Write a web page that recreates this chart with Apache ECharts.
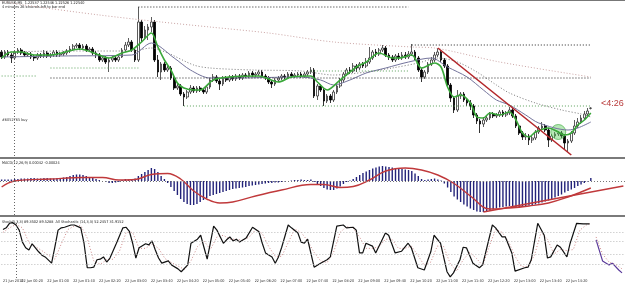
<!DOCTYPE html>
<html><head><meta charset="utf-8">
<script src="https://cdn.jsdelivr.net/npm/echarts/dist/echarts.min.js"></script>
<style>html,body{margin:0;padding:0;background:#fff;}#c{width:625px;height:285px;}</style>
</head><body><div id="c"></div>
<script>
// ---- tick labels: first at bar 0, then every 8 bars starting at bar 9 ----
const timeLabels = ['21 Jun 2010','22 Jun 00:20','22 Jun 01:00','22 Jun 01:40','22 Jun 02:20','22 Jun 03:00','22 Jun 03:40','22 Jun 04:20','22 Jun 05:00','22 Jun 05:40','22 Jun 06:20','22 Jun 07:00','22 Jun 07:40','22 Jun 08:20','22 Jun 09:00','22 Jun 09:40','22 Jun 10:20','22 Jun 11:00','22 Jun 11:40','22 Jun 12:20','22 Jun 13:00','22 Jun 13:40','22 Jun 14:20'];
const labelStep = 8;
const labelOffset = 1;
const slotCount = 192;           // bars + empty chart shift on the right
const daySeparator = 4;          // period separator position

// ---- EURUSD M5 candles [open, close, low, high] ----
const candles = [
[1.2310,1.2305,1.2303,1.2312],[1.2305,1.2310,1.2303,1.2312],[1.2310,1.2307,1.2305,1.2312],[1.2307,1.2304,1.2299,1.2309],
[1.2304,1.2310,1.2302,1.2312],[1.2310,1.2312,1.2308,1.2314],[1.2312,1.2309,1.2307,1.2314],[1.2309,1.2307,1.2305,1.2311],
[1.2307,1.2308,1.2305,1.2310],[1.2308,1.2305,1.2303,1.2310],[1.2305,1.2304,1.2301,1.2307],[1.2304,1.2307,1.2302,1.2309],
[1.2307,1.2306,1.2304,1.2309],[1.2306,1.2309,1.2304,1.2312],[1.2309,1.2306,1.2304,1.2311],[1.2306,1.2307,1.2304,1.2309],
[1.2307,1.2310,1.2305,1.2312],[1.2310,1.2307,1.2305,1.2312],[1.2307,1.2308,1.2305,1.2310],[1.2308,1.2309,1.2306,1.2311],
[1.2309,1.2311,1.2307,1.2313],[1.2311,1.2313,1.2309,1.2316],[1.2313,1.2316,1.2311,1.2318],[1.2316,1.2317,1.2314,1.2319],
[1.2317,1.2314,1.2312,1.2319],[1.2314,1.2316,1.2312,1.2318],[1.2316,1.2312,1.2310,1.2318],[1.2312,1.2313,1.2310,1.2315],
[1.2313,1.2309,1.2307,1.2315],[1.2309,1.2307,1.2304,1.2311],[1.2307,1.2302,1.2300,1.2309],[1.2302,1.2304,1.2300,1.2306],
[1.2304,1.2300,1.2298,1.2306],[1.2300,1.2302,1.2290,1.2304],[1.2302,1.2304,1.2300,1.2306],[1.2304,1.2302,1.2300,1.2306],
[1.2302,1.2305,1.2300,1.2307],[1.2305,1.2312,1.2304,1.2314],[1.2312,1.2317,1.2310,1.2320],[1.2317,1.2320,1.2315,1.2324],
[1.2320,1.2312,1.2310,1.2322],[1.2312,1.2302,1.2300,1.2314],[1.2302,1.2340,1.2300,1.2355],[1.2340,1.2324,1.2320,1.2342],
[1.2324,1.2332,1.2322,1.2336],[1.2332,1.2335,1.2322,1.2338],[1.2335,1.2340,1.2330,1.2345],[1.2340,1.2302,1.2300,1.2342],
[1.2302,1.2290,1.2285,1.2307],[1.2290,1.2298,1.2282,1.2300],[1.2298,1.2292,1.2290,1.2300],[1.2292,1.2294,1.2290,1.2296],
[1.2294,1.2284,1.2282,1.2296],[1.2284,1.2274,1.2272,1.2286],[1.2274,1.2276,1.2272,1.2278],[1.2276,1.2268,1.2266,1.2278],
[1.2268,1.2265,1.2256,1.2270],[1.2265,1.2270,1.2263,1.2272],[1.2270,1.2274,1.2268,1.2277],[1.2274,1.2271,1.2269,1.2276],
[1.2271,1.2274,1.2269,1.2276],[1.2274,1.2272,1.2270,1.2276],[1.2272,1.2270,1.2268,1.2274],[1.2270,1.2275,1.2268,1.2277],
[1.2275,1.2282,1.2273,1.2284],[1.2282,1.2285,1.2280,1.2288],[1.2285,1.2281,1.2279,1.2287],[1.2281,1.2278,1.2272,1.2283],
[1.2278,1.2284,1.2276,1.2286],[1.2284,1.2282,1.2280,1.2286],[1.2282,1.2285,1.2280,1.2287],[1.2285,1.2283,1.2281,1.2287],
[1.2283,1.2286,1.2281,1.2288],[1.2286,1.2284,1.2282,1.2288],[1.2284,1.2287,1.2282,1.2289],[1.2287,1.2286,1.2284,1.2289],
[1.2286,1.2289,1.2284,1.2291],[1.2289,1.2287,1.2285,1.2291],[1.2287,1.2288,1.2285,1.2290],[1.2288,1.2290,1.2286,1.2292],
[1.2290,1.2286,1.2284,1.2292],[1.2286,1.2284,1.2282,1.2288],[1.2284,1.2280,1.2278,1.2286],[1.2280,1.2278,1.2274,1.2282],
[1.2278,1.2282,1.2276,1.2284],[1.2282,1.2284,1.2280,1.2286],[1.2284,1.2286,1.2282,1.2288],[1.2286,1.2285,1.2283,1.2288],
[1.2285,1.2288,1.2283,1.2290],[1.2288,1.2286,1.2284,1.2290],[1.2286,1.2287,1.2284,1.2289],[1.2287,1.2288,1.2285,1.2290],
[1.2288,1.2286,1.2284,1.2290],[1.2286,1.2288,1.2284,1.2290],[1.2288,1.2290,1.2286,1.2292],[1.2290,1.2292,1.2288,1.2295],
[1.2292,1.2266,1.2264,1.2294],[1.2266,1.2276,1.2262,1.2278],[1.2276,1.2272,1.2270,1.2278],[1.2272,1.2261,1.2256,1.2274],
[1.2261,1.2266,1.2259,1.2268],[1.2266,1.2262,1.2259,1.2268],[1.2262,1.2270,1.2260,1.2272],[1.2270,1.2276,1.2268,1.2278],
[1.2276,1.2282,1.2274,1.2284],[1.2282,1.2288,1.2280,1.2290],[1.2288,1.2292,1.2286,1.2294],[1.2292,1.2291,1.2288,1.2295],
[1.2291,1.2296,1.2289,1.2299],[1.2296,1.2294,1.2290,1.2298],[1.2294,1.2298,1.2292,1.2300],[1.2298,1.2296,1.2294,1.2300],
[1.2296,1.2300,1.2294,1.2304],[1.2300,1.2304,1.2298,1.2315],[1.2304,1.2310,1.2302,1.2312],[1.2310,1.2308,1.2305,1.2313],
[1.2308,1.2312,1.2306,1.2314],[1.2312,1.2314,1.2310,1.2317],[1.2314,1.2307,1.2305,1.2316],[1.2307,1.2305,1.2302,1.2309],
[1.2305,1.2302,1.2300,1.2307],[1.2302,1.2306,1.2300,1.2308],[1.2306,1.2304,1.2302,1.2309],[1.2304,1.2307,1.2302,1.2310],
[1.2307,1.2305,1.2303,1.2310],[1.2305,1.2308,1.2303,1.2311],[1.2308,1.2310,1.2306,1.2318],[1.2310,1.2304,1.2302,1.2312],
[1.2304,1.2292,1.2290,1.2306],[1.2292,1.2285,1.2280,1.2294],[1.2285,1.2290,1.2283,1.2292],[1.2290,1.2298,1.2288,1.2300],
[1.2298,1.2302,1.2296,1.2305],[1.2302,1.2307,1.2300,1.2310],[1.2307,1.2310,1.2305,1.2314],[1.2310,1.2302,1.2300,1.2312],
[1.2302,1.2296,1.2294,1.2304],[1.2296,1.2277,1.2274,1.2298],[1.2277,1.2264,1.2260,1.2279],[1.2264,1.2252,1.2249,1.2266],
[1.2252,1.2266,1.2250,1.2272],[1.2266,1.2268,1.2263,1.2270],[1.2268,1.2262,1.2260,1.2270],[1.2262,1.2259,1.2256,1.2264],
[1.2259,1.2256,1.2252,1.2262],[1.2256,1.2247,1.2244,1.2258],[1.2247,1.2241,1.2238,1.2249],[1.2241,1.2238,1.2229,1.2243],
[1.2238,1.2242,1.2235,1.2245],[1.2242,1.2244,1.2240,1.2247],[1.2244,1.2248,1.2242,1.2250],[1.2248,1.2246,1.2244,1.2250],
[1.2246,1.2247,1.2244,1.2249],[1.2247,1.2250,1.2245,1.2252],[1.2250,1.2247,1.2245,1.2252],[1.2247,1.2249,1.2245,1.2251],
[1.2249,1.2252,1.2247,1.2255],[1.2252,1.2246,1.2244,1.2254],[1.2246,1.2236,1.2234,1.2248],[1.2236,1.2229,1.2227,1.2238],
[1.2229,1.2225,1.2222,1.2231],[1.2225,1.2226,1.2222,1.2229],[1.2226,1.2222,1.2217,1.2228],[1.2222,1.2224,1.2219,1.2226],
[1.2224,1.2230,1.2222,1.2232],[1.2230,1.2234,1.2228,1.2236],[1.2234,1.2236,1.2232,1.2240],[1.2236,1.2232,1.2230,1.2238],
[1.2232,1.2222,1.2215,1.2234],[1.2222,1.2226,1.2220,1.2228],[1.2226,1.2228,1.2224,1.2230],[1.2228,1.2229,1.2226,1.2231],
[1.2229,1.2226,1.2224,1.2231],[1.2226,1.2219,1.2212,1.2228],[1.2219,1.2221,1.2210,1.2223],[1.2221,1.2229,1.2219,1.2231],
[1.2229,1.2236,1.2227,1.2242],[1.2236,1.2240,1.2234,1.2244],[1.2240,1.2244,1.2238,1.2247],[1.2244,1.2248,1.2242,1.2251],
[1.2248,1.2251,1.2246,1.2254],[1.22537,1.22540,1.22526,1.22546]
];

// ---- moving averages read at sample bars [barIndex, price] ----
const maFast = [[0,1.2304],[3,1.2310],[6,1.2310],[10,1.2307],[15,1.2307],[24,1.2313],[30,1.2307],[33,1.2304],[37,1.2309],[40,1.2312],[43,1.2320],[46,1.2329],[48,1.2315],[50,1.2302],[52,1.2292],[54,1.2279],[56,1.2274],[59,1.2272],[61,1.2272],[65,1.2282],[70,1.2285],[79,1.2286],[85,1.2280],[89,1.2285],[95,1.2286],[97,1.2280],[100,1.2272],[104,1.2282],[109,1.2295],[112,1.2300],[116,1.2309],[120,1.2304],[122,1.2304],[126,1.2307],[129,1.2294],[133,1.2299],[135,1.2295],[137,1.2275],[139,1.2265],[141,1.2267],[144,1.2259],[146,1.2245],[148,1.2244],[150,1.2249],[153,1.2247],[156,1.2250],[158,1.2242],[160,1.2229],[162,1.2225],[164,1.2230],[168,1.2234],[171,1.2230],[173,1.2227],[175,1.2229],[177,1.2237],[179,1.2242],[181,1.2249]];
const maMid = [[0,1.2305],[18,1.2306],[40,1.2307],[46,1.2319],[53,1.2304],[58,1.2292],[64,1.2284],[71,1.2284],[92,1.2285],[98,1.2282],[102,1.2277],[107,1.2282],[112,1.2289],[118,1.2294],[125,1.2300],[132,1.2304],[137,1.2295],[143,1.2285],[148,1.2272],[152,1.2262],[156,1.2257],[161,1.2247],[165,1.2239],[174,1.2232],[177,1.2234],[181,1.2240]];
const maSlow = [[0,1.2310],[20,1.2311],[40,1.2311],[46,1.2314],[51,1.2309],[59,1.2297],[64,1.2294],[77,1.2292],[92,1.2291],[102,1.2287],[112,1.2290],[120,1.2294],[128,1.2299],[134,1.2304],[140,1.2300],[146,1.2290],[152,1.2277],[156,1.2269],[164,1.2259],[172,1.2252],[178,1.2248],[181,1.2245]];
const maSlowest = [[0,1.2361],[7,1.2357],[30,1.2347],[49,1.2340],[64,1.2335],[82,1.2329],[102,1.2320],[126,1.2315],[133,1.2314],[153,1.2300],[181,1.2285]];

// ---- drawn objects on the price panel ----
const levelBlack = [[[42,1.2355],[125,1.2355]], [[126,1.2317],[181,1.2317]], [[15,1.2284],[181,1.2284]]];
const levelGreen = [[[0,1.2286],[11,1.2286]], [[15,1.2294],[42,1.2294]], [[95,1.2291],[125,1.2291]], [[56,1.2256],[181,1.2256]]];
const orderLine = 1.2240;       // #6052765 buy
const lowLine = 1.2211;
const trendLine = [[134,1.2314],[175,1.2207]];
const highlight = [[171,1.2230]];

// ---- MACD(12,26,9) in points (1e-5) ----
const macdMain = [6,6,6,6,
8,8,10,10,10,12,12,10,10,12,12,10,10,12,12,14,
16,20,24,26,26,24,20,16,12,
8,4,0,-4,
-8,-8,-6,-4,
4,8,6,8,10,
20,28,36,44,52,48,
36,20,8,-8,
-24,-40,-56,-72,-84,-92,-96,-96,-92,-84,-76,
-68,-60,-56,-52,-48,-44,
-40,-36,-32,-30,-28,-26,-24,-20,-18,-16,-14,-12,-10,-8,-8,-6,-6,
-4,-2,0,2,4,4,6,4,4,6,
-4,-12,-20,-28,-34,-36,-36,-30,-22,
-12,-4,2,
8,16,24,32,38,44,50,54,58,60,
58,56,54,52,50,48,46,44,40,30,
20,8,4,6,8,10,6,2,
-10,-26,-44,-62,-74,-84,-94,-102,-110,-116,-122,-124,
-124,-122,-118,-114,-110,-106,-104,-102,-100,-100,-104,-106,-104,
-100,-98,-96,-94,-90,-86,-82,-78,-72,-66,-60,-54,
-46,-40,-34,-28,-20,-14,-8,-2,12];
const macdSignal = [[0,-24],[4,0],[15,8],[25,14],[31,14],[36,4],[41,6],[46,26],[51,30],[55,8],[59,-40],[63,-72],[67,-88],[71,-84],[78,-60],[86,-36],[95,-14],[99,-14],[104,-26],[108,-22],[113,4],[118,40],[124,52],[129,44],[134,24],[139,-10],[144,-60],[150,-112],[156,-108],[162,-100],[168,-88],[174,-64],[178,-44],[181,-28]];
const macdTrend = [[148,-124],[191,-20]];

// ---- Stochastic ----
const stochMain = [[0,85],[1,88],[2,96],[3,97],[4,93],[5,84],[6,63],[7,53],[8,49],[9,60],[10,53],[11,46],[12,40],[13,37],[15,26],[16,54],[17,84],[18,88],[19,89],[21,93],[22,93],[24,88],[25,61],[26,18],[27,18],[28,19],[29,32],[30,33],[31,37],[32,28],[33,35],[35,61],[37,88],[38,89],[39,82],[40,61],[41,35],[42,53],[44,60],[45,58],[46,65],[47,49],[48,35],[49,26],[51,30],[52,23],[54,16],[55,11],[57,23],[58,61],[60,68],[61,75],[62,54],[63,33],[65,91],[66,84],[68,61],[69,67],[70,72],[71,65],[72,68],[73,63],[75,70],[77,89],[79,81],[80,61],[81,44],[83,37],[84,26],[85,37],[86,54],[88,93],[89,88],[91,79],[92,63],[93,61],[94,68],[96,19],[98,26],[100,32],[101,37],[103,91],[105,93],[106,88],[108,89],[109,84],[110,44],[111,44],[112,61],[114,56],[115,44],[118,79],[119,75],[121,44],[123,47],[125,61],[126,53],[128,18],[130,14],[132,46],[133,75],[135,61],[137,11],[138,2],[139,9],[141,32],[142,54],[143,53],[145,26],[147,18],[148,23],[151,93],[152,88],[154,72],[155,72],[157,44],[158,12],[161,18],[162,19],[163,32],[165,96],[167,75],[168,35],[169,37],[171,58],[172,54],[174,37],[175,61],[177,96],[179,95],[181,95]];
const stochSignal = [[0,80],[2,88],[4,94],[6,88],[8,62],[10,55],[12,48],[14,40],[16,33],[18,60],[20,85],[22,91],[24,92],[26,70],[28,30],[30,24],[32,32],[34,33],[36,48],[38,80],[40,80],[42,52],[44,52],[46,60],[48,52],[50,34],[52,27],[54,21],[56,15],[58,30],[60,55],[62,65],[64,50],[66,72],[68,75],[70,68],[72,68],[74,66],[76,72],[78,85],[80,78],[82,55],[84,38],[86,38],[88,62],[90,86],[92,80],[94,65],[96,45],[98,30],[100,27],[102,45],[104,80],[106,90],[108,88],[110,72],[112,52],[114,52],[116,55],[118,68],[120,68],[122,52],[124,52],[126,56],[128,40],[130,22],[132,28],[134,56],[136,55],[138,25],[140,12],[142,32],[144,45],[146,35],[148,22],[150,55],[152,85],[154,80],[156,64],[158,38],[160,20],[162,20],[164,40],[166,80],[168,68],[170,42],[172,50],[174,48],[176,50],[178,84],[180,93],[181,95]];
const allStoch = [[183,67],[185,30],[187,23],[188,26],[190,14],[191,9]];
const allStochSignal = [[183,72],[185,42],[187,28],[189,24],[191,16]];
const stochLevels = [80,65,42,25];

// ---- build ----
const cats = [];
for (let i = 0; i < slotCount; i++) {
  let t = '';
  if (i === 0) t = timeLabels[0];
  else if ((i - labelOffset) % labelStep === 0) {
    const k = (i - labelOffset) / labelStep;
    if (k >= 1 && k < timeLabels.length) t = timeLabels[k];
  }
  cats.push(t);
}
const tiny = "'Liberation Sans Narrow','DejaVu Sans Condensed',sans-serif";
const chart = echarts.init(document.getElementById('c'), null, {renderer: 'canvas'});

function xAx(gi, labels) {
  return {
    type: 'category', gridIndex: gi, data: cats, boundaryGap: true,
    axisLine: {show: false}, axisTick: {show: false}, splitLine: {show: false},
    axisLabel: labels ? {
      show: true, interval: 0, hideOverlap: false,
      fontSize: 3.8, fontFamily: tiny, color: '#333', margin: 1.5, alignMinLabel: 'left'
    } : {show: false}
  };
}

function lineS(name, data, color, width, type, xi, yi, extra) {
  return Object.assign({name, type: 'line', data, xAxisIndex: xi, yAxisIndex: yi,
    showSymbol: false, symbol: 'none', smooth: false, silent: true,
    lineStyle: {color, width, type}}, extra || {});
}

const series = [];
series.push({
  type: 'candlestick', data: candles, xAxisIndex: 0, yAxisIndex: 0, barWidth: 2.2, silent: true,
  itemStyle: {color: '#ffffff', color0: '#000000', borderColor: '#333', borderColor0: '#000', borderWidth: 0.8},
  markLine: {silent: true, symbol: 'none', label: {show: false}, data: [
    {yAxis: orderLine, lineStyle: {color: '#666', type: [5, 2, 1, 2], width: 1}},
    {yAxis: lowLine, lineStyle: {color: '#c48a7a', type: [3, 2], width: 1}},
    {xAxis: daySeparator, lineStyle: {color: '#666', type: [1, 2], width: 1}}
  ]}
});
series.push(lineS('slowest', maSlowest, '#c9a3a3', 1, [1, 2], 0, 0, {smooth: 0.3}));
series.push(lineS('slow', maSlow, '#777', 1, [1, 2], 0, 0, {smooth: 0.3}));
series.push(lineS('mid', maMid, '#74749c', 1, 'solid', 0, 0, {smooth: 0.3}));
levelBlack.forEach(d => series.push(lineS('lvB', d, '#222', 1, [1, 2], 0, 0)));
levelGreen.forEach(d => series.push(lineS('lvG', d, '#5aa05a', 1, [1, 2], 0, 0)));
series.push(lineS('fast', maFast, '#3aa83a', 1.6, 'solid', 0, 0, {smooth: 0.3}));
series.push(lineS('trend', trendLine, '#b3262a', 1.6, 'solid', 0, 0));
series.push({type: 'scatter', data: highlight, xAxisIndex: 0, yAxisIndex: 0, symbolSize: 15, silent: true,
  itemStyle: {color: 'rgba(90,200,90,0.55)', borderColor: 'rgba(60,170,60,0.8)', borderWidth: 1}});

series.push({type: 'bar', data: macdMain, xAxisIndex: 1, yAxisIndex: 1, barWidth: 1.4, silent: true,
  itemStyle: {color: '#23237a'},
  markLine: {silent: true, symbol: 'none', label: {show: false}, data: [
    {yAxis: 0, lineStyle: {color: '#777', type: [1, 2], width: 1}},
    {xAxis: daySeparator, lineStyle: {color: '#666', type: [1, 2], width: 1}}
  ]}});
series.push(lineS('signal', macdSignal, '#c0393b', 1.4, 'solid', 1, 1, {smooth: 0.4}));
series.push(lineS('macdTrend', macdTrend, '#c0393b', 1.4, 'solid', 1, 1));

series.push(lineS('stSig', stochSignal, '#d08a8a', 1, [1, 2], 2, 2, {
  markLine: {silent: true, symbol: 'none', label: {show: false},
    data: stochLevels.map(v => ({yAxis: v, lineStyle: {color: '#bbb', type: [1, 2], width: 1}}))
      .concat([{xAxis: daySeparator, lineStyle: {color: '#666', type: [1, 2], width: 1}}])}
}));
series.push(lineS('stMain', stochMain, '#111', 1.2, 'solid', 2, 2));
series.push(lineS('allSig', allStochSignal, '#d08a8a', 1, [1, 2], 2, 2));
series.push(lineS('all', allStoch, '#5a3a9a', 1.2, 'solid', 2, 2));

const txt = (t, left, top, size, color) => ({type: 'text', left, top, silent: true,
  style: {text: t, fontSize: size, fontFamily: tiny, fill: color}});

chart.setOption({
  animation: false,
  backgroundColor: '#ffffff',
  grid: [
    {left: 0, right: 0, top: 2, height: 154},
    {left: 0, right: 0, top: 160, height: 55},
    {left: 0, right: 0, top: 221, height: 57}
  ],
  xAxis: [xAx(0, false), xAx(1, false), xAx(2, true)],
  yAxis: [
    {gridIndex: 0, type: 'value', min: 1.2206, max: 1.2360, show: false, splitLine: {show: false}},
    {gridIndex: 1, type: 'value', min: -136, max: 84, show: false, splitLine: {show: false}},
    {gridIndex: 2, type: 'value', min: 0, max: 100, show: false, splitLine: {show: false}}
  ],
  series,
  graphic: [
    {type: 'rect', shape: {x: 0, y: 0, width: 625, height: 1}, style: {fill: '#777'}, silent: true},
    {type: 'rect', shape: {x: 0, y: 157, width: 625, height: 2}, style: {fill: '#7a7a7a'}, silent: true},
    {type: 'rect', shape: {x: 0, y: 215, width: 625, height: 2}, style: {fill: '#7a7a7a'}, silent: true},
    txt('EURUSD,M5  1.22537 1.22546 1.22526 1.22540', 2, 1, 3.8, '#222'),
    txt('4 minutes 26 seconds left to bar end', 2, 5.5, 3.8, '#222'),
    txt('#6052765 buy', 2, 118, 3.8, '#333'),
    txt('MACD(12,26,9) 0.00042 -0.00024', 2, 161, 3.8, '#222'),
    txt('Stoch(5,3,3) 89.3502 89.5288  All Stochastic (14,3,3) 52.2457 31.9152', 2, 220, 3.8, '#222'),
    {type: 'text', left: 601, top: 99, silent: true,
      style: {text: '<4:26', fontSize: 9, fontFamily: "'Liberation Sans',Arial,sans-serif", fill: '#b83a3a'}}
  ]
});
</script>
</body></html>
